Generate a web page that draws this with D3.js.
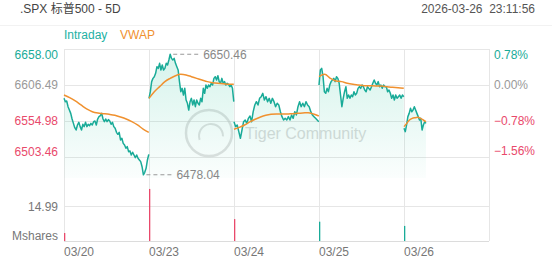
<!DOCTYPE html>
<html>
<head>
<meta charset="utf-8">
<script src="https://d3js.org/d3.v7.min.js"></script>
<style>
body { margin: 0; background: #fff; }
svg { display: block; font-family: "Liberation Sans", Arial, "Noto Sans CJK SC", sans-serif; }
</style>
</head>
<body>
<svg width="552" height="265"></svg>
<script>
// Data
const days = ['03/20', '03/23', '03/24', '03/25', '03/26'];
const day_fraction = [1, 1, 1, 1, 101 / 390]; // part of the session already traded
const prev_close = 6606.49;
const price_ticks = [6658.00, 6606.49, 6554.98, 6503.46];
const volume_tick = 14.99;
const open_volume = [3.4, 22.1, 9.3, 8.2, 6.4];
const open_volume_up = [false, false, false, true, true];

const price_0320 = [6587.4, 6582.6, 6583.6, 6575.5, 6570.7, 6565.9, 6557.8, 6551.6, 6545.4, 6542.1, 6549.3, 6553.1, 6546.9, 6542.1, 6550.2, 6546.9, 6553.1, 6546.9, 6550.2, 6548.3, 6551.6, 6549.3, 6554.0, 6555.0, 6549.3, 6557.8, 6561.2, 6562.6, 6565.9, 6557.8, 6554.0, 6557.8, 6554.0, 6556.9, 6555.0, 6550.2, 6553.1, 6546.9, 6544.5, 6538.8, 6535.9, 6538.8, 6527.8, 6530.2, 6523.0, 6520.6, 6515.9, 6518.3, 6511.1, 6512.1, 6506.3, 6510.2, 6506.3, 6502.5, 6506.3, 6501.6, 6499.2, 6496.8, 6489.6, 6478.04, 6481.5, 6487.3, 6499.2, 6507.3];
const price_0323 = [6587.4, 6596.9, 6611.3, 6616.0, 6618.4, 6623.2, 6632.7, 6630.3, 6637.5, 6627.9, 6635.1, 6627.9, 6630.3, 6637.5, 6635.1, 6642.3, 6650.46, 6644.6, 6642.3, 6644.6, 6637.5, 6632.7, 6627.9, 6611.3, 6596.9, 6601.7, 6592.2, 6601.7, 6585.0, 6580.3, 6570.7, 6582.6, 6587.4, 6577.9, 6585.0, 6575.5, 6585.0, 6580.3, 6577.9, 6587.4, 6582.6, 6601.7, 6594.6, 6606.5, 6601.7, 6606.5, 6604.1, 6608.9, 6606.5, 6616.0, 6618.4, 6613.6, 6619.8, 6611.3, 6608.9, 6616.0, 6608.9, 6611.3, 6606.5, 6608.9, 6607.4, 6604.1, 6606.5, 6601.7, 6582.6];
const price_0324 = [6554.0, 6546.9, 6549.3, 6539.7, 6530.2, 6542.1, 6554.0, 6556.4, 6551.6, 6558.8, 6562.1, 6554.0, 6568.3, 6577.9, 6582.6, 6577.9, 6587.4, 6589.8, 6594.6, 6585.0, 6589.8, 6582.6, 6587.4, 6580.3, 6587.4, 6582.6, 6575.5, 6580.3, 6577.9, 6568.3, 6561.2, 6556.4, 6558.8, 6556.4, 6561.2, 6556.4, 6563.6, 6558.8, 6568.3, 6563.6, 6575.5, 6582.6, 6575.5, 6580.3, 6575.5, 6582.6, 6577.9, 6575.5, 6568.3, 6563.6, 6561.2, 6558.8, 6556.4, 6554.0];
const price_0325 = [6606.5, 6627.9, 6630.3, 6618.4, 6596.9, 6594.6, 6601.7, 6596.9, 6606.5, 6611.3, 6613.6, 6616.0, 6611.3, 6618.4, 6616.0, 6608.9, 6592.2, 6575.5, 6587.4, 6596.9, 6604.1, 6587.4, 6592.2, 6587.4, 6592.2, 6589.8, 6596.9, 6592.2, 6594.6, 6601.7, 6604.1, 6601.7, 6606.5, 6604.1, 6599.3, 6596.9, 6604.1, 6601.7, 6599.3, 6604.1, 6608.9, 6613.6, 6608.9, 6606.5, 6611.3, 6604.1, 6606.5, 6601.7, 6606.5, 6604.1, 6604.1, 6596.9, 6599.3, 6594.6, 6587.4, 6592.2, 6585.0, 6592.2, 6587.4, 6589.8, 6592.2, 6587.4, 6592.2, 6589.8];
const price_0326 = [6544.5, 6539.7, 6549.3, 6561.2, 6565.9, 6573.1, 6568.3, 6570.7, 6575.5, 6570.7, 6565.9, 6561.2, 6556.4, 6558.8, 6542.1, 6549.3, 6554.0, 6551.6];

const vwap_0320 = [6592.2, 6588.4, 6583.6, 6577.9, 6572.2, 6568.3, 6566.4, 6565.5, 6564.5, 6563.1, 6560.7, 6557.8, 6554.0, 6549.3, 6543.5, 6538.8];
const vwap_0323 = [6587.4, 6596.9, 6604.1, 6611.3, 6616.0, 6619.8, 6621.7, 6620.8, 6618.4, 6616.0, 6613.6, 6611.3, 6609.8, 6608.9, 6608.4, 6607.4, 6607.4];
const vwap_0324 = [6543.1, 6545.9, 6549.3, 6553.6, 6557.4, 6560.7, 6563.1, 6564.5, 6565.0, 6565.0, 6565.0, 6565.5, 6566.0, 6566.4, 6566.9, 6565.0, 6562.1];
const vwap_0325 = [6618.4, 6621.7, 6616.0, 6612.2, 6611.3, 6608.9, 6607.4, 6606.5, 6605.5, 6605.5, 6605.1, 6605.1, 6604.1, 6603.1, 6602.7, 6601.7];
const vwap_0326 = [6546.9, 6551.6, 6556.4, 6558.8, 6559.7, 6560.2, 6558.8, 6556.4, 6554.0];

// Constants
const svg = d3.select('svg');
const width = +svg.attr('width');
const margin = { left: 64, right: 63 };
const price_top = 49;
const price_bottom = 178;
const volume_bottom = 241;
const teal = '#19ab98';
const red = '#e9496b';
const orange = '#f0912f';
const grid = '#e6e6e6';

const x = d3.scaleLinear().domain([0, days.length]).range([margin.left, width - margin.right]);
const y = d3.scaleLinear().domain([price_ticks[3], price_ticks[0]]).range([157, price_top]);
const vy = d3.scaleLinear().domain([0, volume_tick]).range([volume_bottom, 205.7]);

const to_points = (arrs) => arrs.map((arr, d) => arr.map((p, i) => ({
    t: d + i / (arr.length - 1) * day_fraction[d] * 389 / 390,
    p: p
})));
const price_series = to_points([price_0320, price_0323, price_0324, price_0325, price_0326]);
const vwap_series = to_points([vwap_0320, vwap_0323, vwap_0324, vwap_0325, vwap_0326]);

const label_color = p => p > prev_close + 0.001 ? teal : (p < prev_close - 0.001 ? red : '#999');

// Header
svg.append('text')
    .attr('x', 20).attr('y', 13)
    .attr('font-size', '12px').attr('fill', '#444')
    .text('.SPX 标普500 - 5D');
svg.append('text')
    .attr('x', 535).attr('y', 13)
    .attr('text-anchor', 'end')
    .attr('font-size', '12px').attr('fill', '#555')
    .style('white-space', 'pre')
    .text('2026-03-26  23:11:56');
svg.append('line')
    .attr('x1', 0).attr('x2', width).attr('y1', 25.5).attr('y2', 25.5)
    .attr('stroke', '#f2f2f2');
svg.append('text')
    .attr('x', 64).attr('y', 39)
    .attr('font-size', '12px').attr('fill', '#22b1a3')
    .text('Intraday');
svg.append('text')
    .attr('x', 120).attr('y', 39)
    .attr('font-size', '12px').attr('fill', orange)
    .text('VWAP');

// Gridlines
const grid_g = svg.append('g').attr('stroke', grid).attr('shape-rendering', 'crispEdges');
grid_g.selectAll('.hgrid')
    .data(price_ticks)
    .enter().append('line')
    .attr('x1', x(0)).attr('x2', x(days.length))
    .attr('y1', d => Math.round(y(d)) + 0.5).attr('y2', d => Math.round(y(d)) + 0.5);
grid_g.append('line')
    .attr('x1', x(0)).attr('x2', x(days.length))
    .attr('y1', Math.round(vy(volume_tick)) + 0.5).attr('y2', Math.round(vy(volume_tick)) + 0.5);
grid_g.append('line')
    .attr('x1', x(0)).attr('x2', x(days.length))
    .attr('y1', volume_bottom + 0.5).attr('y2', volume_bottom + 0.5)
    .attr('stroke', '#dcdcdc');
grid_g.selectAll('.vgrid')
    .data(d3.range(days.length + 1))
    .enter().append('line')
    .attr('x1', d => Math.round(x(d)) + 0.5).attr('x2', d => Math.round(x(d)) + 0.5)
    .attr('y1', price_top).attr('y2', volume_bottom);

// Axis labels
svg.selectAll('.left-label')
    .data(price_ticks)
    .enter().append('text')
    .attr('x', 58)
    .attr('y', (d, i) => y(d) + (i === 0 ? 9.5 : (i === price_ticks.length - 1 ? -1.5 : 4.5)))
    .attr('text-anchor', 'end')
    .attr('font-size', '12px')
    .attr('fill', d => label_color(d))
    .text(d => d3.format('.2f')(d));
svg.selectAll('.right-label')
    .data(price_ticks)
    .enter().append('text')
    .attr('x', 494)
    .attr('y', (d, i) => y(d) + (i === 0 ? 10 : (i === price_ticks.length - 1 ? -2 : 4)))
    .attr('font-size', '12px')
    .attr('fill', d => label_color(d))
    .text(d => d3.format('.2f')((d / prev_close - 1) * 100) + '%');
svg.append('text')
    .attr('x', 58).attr('y', vy(volume_tick) + 5)
    .attr('text-anchor', 'end').attr('font-size', '12px').attr('fill', '#777')
    .text(d3.format('.2f')(volume_tick));
svg.append('text')
    .attr('x', 58).attr('y', 240)
    .attr('text-anchor', 'end').attr('font-size', '12px').attr('fill', '#777')
    .text('Mshares');
svg.selectAll('.day-label')
    .data(days)
    .enter().append('text')
    .attr('x', (d, i) => x(i))
    .attr('y', 256)
    .attr('font-size', '12px')
    .attr('fill', '#777')
    .text(d => d);

// Watermark
const wm = svg.append('g').attr('opacity', 0.55);
wm.append('circle')
    .attr('cx', 209).attr('cy', 133).attr('r', 23)
    .attr('fill', 'none').attr('stroke', '#c8c8c8').attr('stroke-width', 2.5);
wm.append('path')
    .attr('d', d3.arc().innerRadius(11).outerRadius(13).startAngle(-1.9).endAngle(1.6)())
    .attr('transform', 'translate(211,136)')
    .attr('fill', '#c8c8c8');
wm.append('text')
    .attr('x', 245).attr('y', 139)
    .attr('font-size', '16px').attr('fill', '#bdbdbd')
    .text('Tiger Community');

// Gradient fill
const defs = svg.append('defs');
const grad = defs.append('linearGradient')
    .attr('id', 'fill-grad')
    .attr('gradientUnits', 'userSpaceOnUse')
    .attr('x1', 0).attr('x2', 0).attr('y1', price_top).attr('y2', price_bottom);
grad.append('stop').attr('offset', 0).attr('stop-color', '#2cc49c').attr('stop-opacity', 0.2);
grad.append('stop').attr('offset', 1).attr('stop-color', '#2cc49c').attr('stop-opacity', 0.02);

const area = d3.area().x(d => x(d.t)).y0(price_bottom).y1(d => y(d.p));
const line = d3.line().x(d => x(d.t)).y(d => y(d.p));

svg.append('g').selectAll('path')
    .data(price_series)
    .enter().append('path')
    .attr('d', area)
    .attr('fill', 'url(#fill-grad)');
svg.append('g').selectAll('path')
    .data(price_series)
    .enter().append('path')
    .attr('d', line)
    .attr('fill', 'none')
    .attr('stroke', teal)
    .attr('stroke-width', 1.5)
    .attr('stroke-linejoin', 'round');
svg.append('g').selectAll('path')
    .data(vwap_series)
    .enter().append('path')
    .attr('d', d3.line().curve(d3.curveMonotoneX).x(d => x(d.t)).y(d => y(d.p)))
    .attr('fill', 'none')
    .attr('stroke', orange)
    .attr('stroke-width', 1.5);

// Volume bars
svg.append('g').selectAll('rect')
    .data(open_volume)
    .enter().append('rect')
    .attr('x', (d, i) => Math.round(x(i)))
    .attr('y', d => vy(d))
    .attr('width', 1.3)
    .attr('height', d => volume_bottom - vy(d))
    .attr('fill', (d, i) => open_volume_up[i] ? teal : red);

// High / low markers
const all_points = price_series.flat();
const hi = all_points.reduce((a, b) => (b.p > a.p ? b : a));
const lo = all_points.reduce((a, b) => (b.p < a.p ? b : a));
[hi, lo].forEach(pt => {
    const px = x(pt.t);
    const py = y(pt.p);
    svg.append('line')
        .attr('x1', px + 3).attr('x2', px + 28)
        .attr('y1', py).attr('y2', py)
        .attr('stroke', '#999').attr('stroke-width', 1.2)
        .attr('stroke-dasharray', '4,3');
    svg.append('text')
        .attr('x', px + 33).attr('y', py + 4.5)
        .attr('font-size', '12px').attr('fill', '#888')
        .text(d3.format('.2f')(pt.p));
});
</script>
</body>
</html>
